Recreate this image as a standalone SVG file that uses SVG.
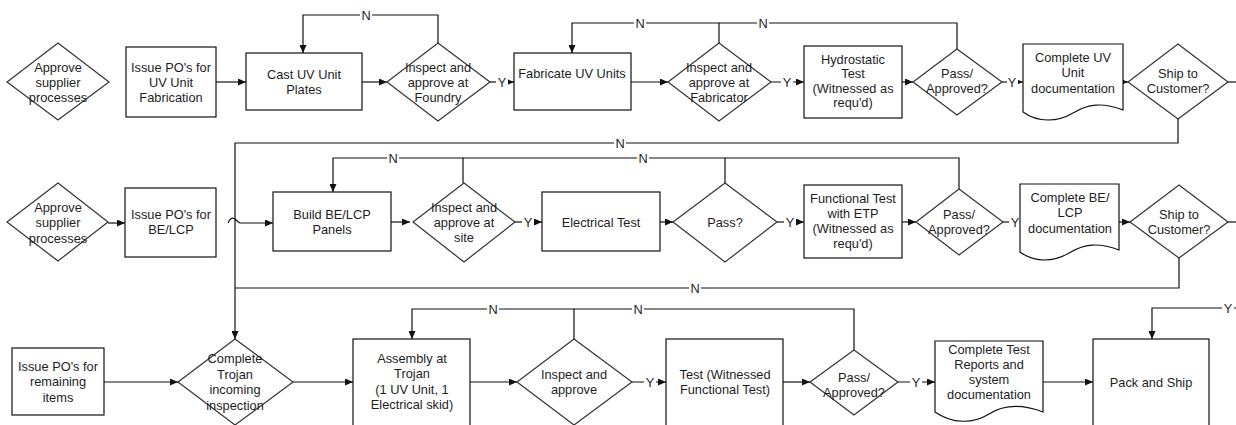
<svg xmlns="http://www.w3.org/2000/svg" width="1236" height="425" viewBox="0 0 1236 425">
  <style>
    .shape { fill: #fff; stroke: #111; stroke-width: 1.2; }
    .dia { fill: #fff; stroke: #333; stroke-width: 1.2; }
    .line { fill: none; stroke: #111; stroke-width: 1.2; }
    .arr { marker-end: url(#ah); }
    text { font-family: "Liberation Sans", Arial, sans-serif; font-size: 12.8px; fill: #1e1e1e; text-anchor: middle; }
    .lbl { fill: #fff; stroke: none; }
  </style>
  <defs>
    <marker id="ah" markerWidth="8" markerHeight="7" refX="8" refY="3.5" orient="auto" markerUnits="userSpaceOnUse">
      <path d="M0,0 L8,3.5 L0,7 Z" fill="#111"/>
    </marker>
  </defs>
  <rect width="1236" height="425" fill="#fff"/>

  <!-- connectors -->
  <g id="connectors">
    <!-- row 1 -->
    <path class="line arr" d="M216,82 H246"/>
    <path class="line arr" d="M362,82 H387"/>
    <path class="line arr" d="M438,43 V15 H303 V53"/>
    <path class="line arr" d="M490,82 H514"/>
    <path class="line arr" d="M631,82 H668"/>
    <path class="line arr" d="M719,43 V23 H572 V53"/>
    <path class="line" d="M957,49 V23 H719"/>
    <path class="line arr" d="M771,82 H804"/>
    <path class="line arr" d="M902,82 H913"/>
    <path class="line arr" d="M1002,82 H1023"/>
    <path class="line arr" d="M1123,82 H1128"/>
    <path class="line" d="M1228,82 H1236"/>
    <path class="line arr" d="M1178,119 V143 H235 V339"/>
    <!-- row 2 -->
    <path class="line arr" d="M108,223 H125"/>
    <path class="line arr" d="M228,223 Q231,216 235,219 Q238,222 240,223 H273"/>
    <path class="line arr" d="M391,222 H410"/>
    <path class="line arr" d="M463,183 V158 H333 V192"/>
    <path class="line" d="M725,183 V158 H463"/>
    <path class="line" d="M959,189 V158 H725"/>
    <path class="line arr" d="M515,222 H542"/>
    <path class="line arr" d="M660,222 H673"/>
    <path class="line arr" d="M777,222 H804"/>
    <path class="line arr" d="M902,222 H916"/>
    <path class="line" d="M1003,222 H1020"/>
    <path class="line arr" d="M1119,222 H1130"/>
    <path class="line" d="M1228,222 H1236"/>
    <path class="line" d="M1179,258 V288 H235"/>
    <!-- row 3 -->
    <path class="line arr" d="M104,382 H178"/>
    <path class="line arr" d="M293,382 H353"/>
    <path class="line arr" d="M574,339 V309 H412 V339"/>
    <path class="line" d="M854,350 V309 H574"/>
    <path class="line arr" d="M470,382 H517"/>
    <path class="line arr" d="M632,382 H666"/>
    <path class="line arr" d="M783,382 H810"/>
    <path class="line arr" d="M898,382 H935"/>
    <path class="line arr" d="M1043,382 H1093"/>
    <path class="line arr" d="M1236,308 H1152 V339"/>

    <!-- connector labels -->
    <rect class="lbl" x="360" y="8" width="12" height="14"/><text x="366" y="19.5">N</text>
    <rect class="lbl" x="496" y="75" width="12" height="14"/><text x="502" y="86.5">Y</text>
    <rect class="lbl" x="634" y="16" width="12" height="14"/><text x="640" y="27.5">N</text>
    <rect class="lbl" x="757" y="16" width="12" height="14"/><text x="763" y="27.5">N</text>
    <rect class="lbl" x="781" y="75" width="12" height="14"/><text x="787" y="86.5">Y</text>
    <rect class="lbl" x="1007" y="75" width="11" height="14"/><text x="1012" y="86.5">Y</text>
    <rect class="lbl" x="614" y="136" width="12" height="14"/><text x="620" y="147.5">N</text>
    <rect class="lbl" x="387" y="151" width="12" height="14"/><text x="393" y="162.5">N</text>
    <rect class="lbl" x="637" y="151" width="12" height="14"/><text x="643" y="162.5">N</text>
    <rect class="lbl" x="522" y="215" width="12" height="14"/><text x="528" y="226.5">Y</text>
    <rect class="lbl" x="784" y="215" width="12" height="14"/><text x="790" y="226.5">Y</text>
    <rect class="lbl" x="1009" y="215" width="11" height="14"/><text x="1015" y="226.5">Y</text>
    <rect class="lbl" x="689" y="281" width="12" height="14"/><text x="695" y="292.5">N</text>
    <rect class="lbl" x="487" y="302" width="12" height="14"/><text x="493" y="313.5">N</text>
    <rect class="lbl" x="632" y="302" width="12" height="14"/><text x="638" y="313.5">N</text>
    <rect class="lbl" x="644" y="375" width="12" height="14"/><text x="650" y="386.5">Y</text>
    <rect class="lbl" x="910" y="375" width="12" height="14"/><text x="916" y="386.5">Y</text>
    <rect class="lbl" x="1222" y="301" width="12" height="14"/><text x="1228" y="312.5">Y</text>
  </g>

  <!-- row 1: UV unit -->
  <g id="approve-uv">
    <polygon class="dia" points="58,43 109,82 58,120 7,82"/>
    <text x="58"><tspan x="58" y="71.5">Approve</tspan><tspan x="58" y="86.5">supplier</tspan><tspan x="58" y="101.5">processes</tspan></text>
  </g>
  <g id="po-uv">
    <rect class="shape" x="126" y="47" width="90" height="70"/>
    <text><tspan x="171" y="71.5">Issue PO's for</tspan><tspan x="171" y="86.5">UV Unit</tspan><tspan x="171" y="101.5">Fabrication</tspan></text>
  </g>
  <g id="cast-plates">
    <rect class="shape" x="246" y="53" width="116" height="57"/>
    <text><tspan x="304" y="78.5">Cast UV Unit</tspan><tspan x="304" y="93.5">Plates</tspan></text>
  </g>
  <g id="inspect-foundry">
    <polygon class="dia" points="438,43 490,82 438,121 387,82"/>
    <text><tspan x="438" y="71.5">Inspect and</tspan><tspan x="438" y="86.5">approve at</tspan><tspan x="438" y="101.5">Foundry</tspan></text>
  </g>
  <g id="fabricate">
    <rect class="shape" x="514" y="53" width="117" height="57"/>
    <text x="572" y="77.5">Fabricate UV Units</text>
  </g>
  <g id="inspect-fabricator">
    <polygon class="dia" points="719,43 771,82 719,121 668,82"/>
    <text><tspan x="719" y="71.5">Inspect and</tspan><tspan x="719" y="86.5">approve at</tspan><tspan x="719" y="101.5">Fabricator</tspan></text>
  </g>
  <g id="hydrostatic">
    <rect class="shape" x="804" y="46" width="98" height="72"/>
    <text><tspan x="853" y="63.5">Hydrostatic</tspan><tspan x="853" y="78">Test</tspan><tspan x="853" y="92.5">(Witnessed as</tspan><tspan x="853" y="107">requ'd)</tspan></text>
  </g>
  <g id="pass-uv">
    <polygon class="dia" points="957,49 1002,82 957,115 913,82"/>
    <text><tspan x="957" y="77.5">Pass/</tspan><tspan x="957" y="92.5">Approved?</tspan></text>
  </g>
  <g id="doc-uv">
    <path class="shape" d="M1023,44 H1123 V110 C1102,102 1088,104 1073,113 C1058,122 1038,123 1023,112 Z"/>
    <text><tspan x="1073" y="61.5">Complete UV</tspan><tspan x="1073" y="77">Unit</tspan><tspan x="1073" y="92.5">documentation</tspan></text>
  </g>
  <g id="ship-uv">
    <polygon class="dia" points="1178,44 1228,82 1178,119 1128,82"/>
    <text><tspan x="1178" y="77.5">Ship to</tspan><tspan x="1178" y="92.5">Customer?</tspan></text>
  </g>

  <!-- row 2: BE/LCP panels -->
  <g id="approve-belcp">
    <polygon class="dia" points="58,183 108,222 58,261 7,222"/>
    <text><tspan x="58" y="211.5">Approve</tspan><tspan x="58" y="227">supplier</tspan><tspan x="58" y="242.5">processes</tspan></text>
  </g>
  <g id="po-belcp">
    <rect class="shape" x="125" y="188" width="91" height="69"/>
    <text><tspan x="171" y="218.5">Issue PO's for</tspan><tspan x="171" y="233.5">BE/LCP</tspan></text>
  </g>
  <g id="build-panels">
    <rect class="shape" x="273" y="192" width="118" height="59"/>
    <text><tspan x="332" y="218.5">Build BE/LCP</tspan><tspan x="332" y="233.5">Panels</tspan></text>
  </g>
  <g id="inspect-site">
    <polygon class="dia" points="464,183 515,222 464,262 413,222"/>
    <text><tspan x="464" y="211.5">Inspect and</tspan><tspan x="464" y="226.5">approve at</tspan><tspan x="464" y="241.5">site</tspan></text>
  </g>
  <g id="electrical-test">
    <rect class="shape" x="542" y="192" width="118" height="59"/>
    <text x="601" y="226.5">Electrical Test</text>
  </g>
  <g id="pass-electrical">
    <polygon class="dia" points="725,183 777,222 725,262 673,222"/>
    <text x="725" y="226.5">Pass?</text>
  </g>
  <g id="functional-test">
    <rect class="shape" x="804" y="185" width="98" height="73"/>
    <text><tspan x="853" y="202.5">Functional Test</tspan><tspan x="853" y="217.5">with ETP</tspan><tspan x="853" y="232.5">(Witnessed as</tspan><tspan x="853" y="247.5">requ'd)</tspan></text>
  </g>
  <g id="pass-functional">
    <polygon class="dia" points="959,189 1003,222 959,255 916,222"/>
    <text><tspan x="959" y="218.5">Pass/</tspan><tspan x="959" y="233.5">Approved?</tspan></text>
  </g>
  <g id="doc-belcp">
    <path class="shape" d="M1020,184 H1119 V250 C1098,242 1084,244 1069,253 C1054,262 1035,263 1020,252 Z"/>
    <text><tspan x="1070" y="201.5">Complete BE/</tspan><tspan x="1070" y="217">LCP</tspan><tspan x="1070" y="232.5">documentation</tspan></text>
  </g>
  <g id="ship-belcp">
    <polygon class="dia" points="1179,185 1228,222 1179,258 1130,222"/>
    <text><tspan x="1179" y="218.5">Ship to</tspan><tspan x="1179" y="233.5">Customer?</tspan></text>
  </g>

  <!-- row 3: assembly at Trojan -->
  <g id="po-remaining">
    <rect class="shape" x="12" y="348" width="92" height="67"/>
    <text><tspan x="58" y="370.5">Issue PO's for</tspan><tspan x="58" y="386">remaining</tspan><tspan x="58" y="401.5">items</tspan></text>
  </g>
  <g id="incoming-inspection">
    <polygon class="dia" points="235,339 293,382 235,425 178,382"/>
    <text><tspan x="235" y="362.5">Complete</tspan><tspan x="235" y="378.5">Trojan</tspan><tspan x="235" y="393.5">incoming</tspan><tspan x="235" y="409.5">inspection</tspan></text>
  </g>
  <g id="assembly">
    <rect class="shape" x="353" y="339" width="117" height="92"/>
    <text><tspan x="412" y="362.5">Assembly at</tspan><tspan x="412" y="378">Trojan</tspan><tspan x="412" y="393.5">(1 UV Unit, 1</tspan><tspan x="412" y="409">Electrical skid)</tspan></text>
  </g>
  <g id="inspect-assembly">
    <polygon class="dia" points="574,339 632,382 574,425 517,382"/>
    <text><tspan x="574" y="378.5">Inspect and</tspan><tspan x="574" y="393.5">approve</tspan></text>
  </g>
  <g id="system-test">
    <rect class="shape" x="666" y="339" width="117" height="92"/>
    <text><tspan x="725" y="378.5">Test (Witnessed</tspan><tspan x="725" y="393.5">Functional Test)</tspan></text>
  </g>
  <g id="pass-system">
    <polygon class="dia" points="854,350 898,382 854,415 810,382"/>
    <text><tspan x="854" y="381.5">Pass/</tspan><tspan x="854" y="396.5">Approved?</tspan></text>
  </g>
  <g id="doc-system">
    <path class="shape" d="M935,341 H1043 V412 C1022,404 1005,404 989,414 C973,424 952,424 935,412 Z"/>
    <text><tspan x="989" y="353.5">Complete Test</tspan><tspan x="989" y="368.5">Reports and</tspan><tspan x="989" y="383.5">system</tspan><tspan x="989" y="399">documentation</tspan></text>
  </g>
  <g id="pack-ship">
    <rect class="shape" x="1093" y="339" width="116" height="92"/>
    <text x="1151" y="386.5">Pack and Ship</text>
  </g>
</svg>
